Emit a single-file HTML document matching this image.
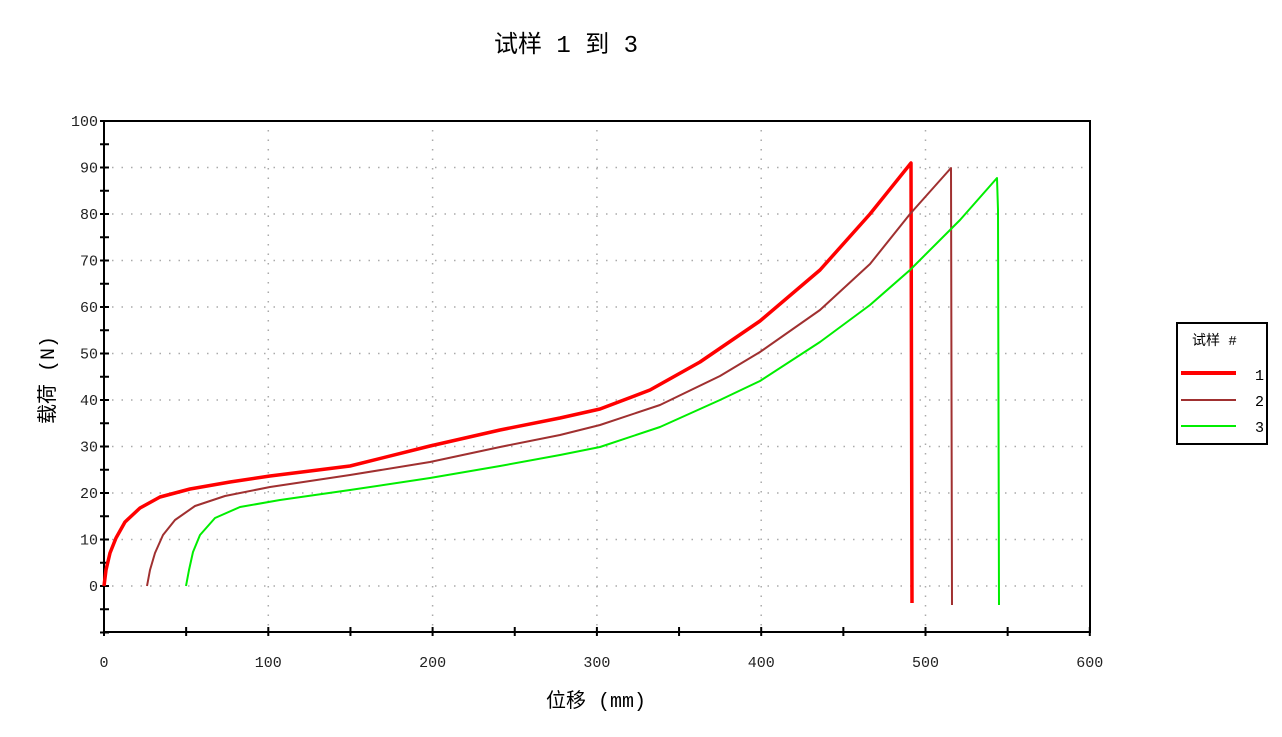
<!DOCTYPE html>
<html><head><meta charset="utf-8"><style>
body{margin:0;background:#fff;width:1282px;height:732px;overflow:hidden}
text{font-family:"Liberation Mono","WenQuanYi Zen Hei",monospace}
</style></head><body>
<svg width="1282" height="732" xmlns="http://www.w3.org/2000/svg">
<text x="566" y="52" font-size="24" text-anchor="middle" font-family="Liberation Mono,WenQuanYi Zen Hei,monospace">试样 1 到 3</text>
<g id="grid" stroke="#aaa" stroke-width="1.5" stroke-dasharray="1.5 8"></g>
<rect x="104" y="121" width="986" height="511" fill="none" stroke="#000" stroke-width="2"/>
<g id="ticks" stroke="#000" stroke-width="2"></g>
<g id="labels" font-size="15" fill="#222"></g>
<text x="596" y="707" font-size="20" text-anchor="middle">位移 (mm)</text>
<text transform="translate(54,380) rotate(-90)" font-size="20" text-anchor="middle">载荷 (N)</text>
<polyline fill="none" stroke="#f00" stroke-width="3.5" stroke-linejoin="round" points="104,586 106,570 110,553 116,538 125,522 140,508 160,497 190,489 230,482 270,476 350,466 430,446 500,430 560,418 600,409 650,390 700,362 760,321 820,270 870,214 911,163 912,603"/>
<polyline fill="none" stroke="#a03030" stroke-width="2" stroke-linejoin="round" points="147,586 150,570 155,553 163,535 175,520 195,506 225,496 270,487 350,475 430,462 500,447 560,435 600,425 660,405 720,376 760,352 820,310 870,264 910,214 951,168 952,605"/>
<polyline fill="none" stroke="#0e0" stroke-width="2" stroke-linejoin="round" points="186,586 189,570 193,552 200,535 215,518 240,507 280,500 350,490 430,478 500,466 560,455 600,447 660,427 720,400 760,381 820,342 870,305 910,270 960,220 997,178 998,210 999,605"/>
<rect x="1177" y="323" width="90" height="121" fill="#fff" stroke="#000" stroke-width="2"/>
<text x="1192" y="345" font-size="14">试样 #</text>
<line x1="1181" y1="373" x2="1236" y2="373" stroke="#f00" stroke-width="4"/>
<line x1="1181" y1="400" x2="1236" y2="400" stroke="#a03030" stroke-width="2"/>
<line x1="1181" y1="426" x2="1236" y2="426" stroke="#0e0" stroke-width="2"/>
<text x="1255" y="380" font-size="15">1</text>
<text x="1255" y="406" font-size="15">2</text>
<text x="1255" y="432" font-size="15">3</text>
</svg>
<script>
const ns="http://www.w3.org/2000/svg",g=document.getElementById('grid'),t=document.getElementById('ticks'),l=document.getElementById('labels');
function el(p,n,a,txt){const e=document.createElementNS(ns,n);for(const k in a)e.setAttribute(k,a[k]);if(txt!==undefined)e.textContent=txt;p.appendChild(e);}
const y0=586,dy=4.65,x0=104,dx=1.643;
for(let v=-10;v<=100;v+=5){const y=y0-v*dy;
 el(t,'line',{x1:100,y1:y,x2:109,y2:y});
 if(v%10==0&&v>-10){if(v<100)el(g,'line',{x1:112,y1:y,x2:1090,y2:y});el(l,'text',{x:98,y:y+5,'text-anchor':'end'},v);}}
for(let v=0;v<=600;v+=50){const x=x0+v*dx;
 el(t,'line',{x1:x,y1:636,x2:x,y2:627});
 if(v%100==0){if(v>0&&v<600)el(g,'line',{x1:x,y1:130,x2:x,y2:626});el(l,'text',{x:x,y:667,'text-anchor':'middle'},v);}}
</script>
</body></html>
